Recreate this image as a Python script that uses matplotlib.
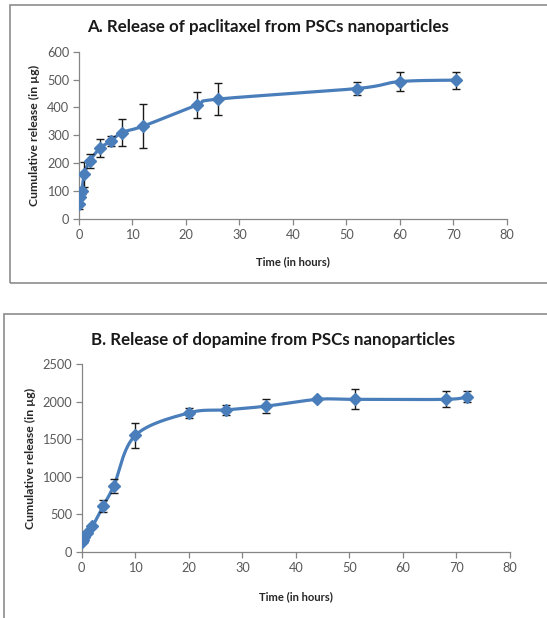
import numpy as np
import matplotlib
matplotlib.use("Agg")
import matplotlib.pyplot as plt
from matplotlib.patches import Rectangle

# ---- data ----
time_a = [0, 0.25, 0.5, 1, 2, 4, 6, 8, 12, 22, 26, 52, 60, 70.5]
release_a = [55, 78, 100, 160, 208, 255, 280, 310, 333, 408, 430, 468, 493, 498]
err_a = [18, 6, 10, 45, 26, 31, 17, 48, 79, 47, 57, 25, 33, 30]

time_b = [0, 0.25, 0.5, 1, 2, 4, 6, 10, 20, 27, 34.5, 44, 51, 68, 72]
release_b = [130, 160, 200, 250, 340, 610, 880, 1550, 1850, 1890, 1940, 2030, 2030, 2030, 2065]
err_b = [15, 10, 12, 15, 20, 75, 90, 165, 65, 70, 95, 15, 135, 105, 70]

title_a = "A. Release of paclitaxel from PSCs nanoparticles"
title_b = "B. Release of dopamine from PSCs nanoparticles"
xlabel = "Time (in hours)"
ylabel = "Cumulative release (in µg)"

W, H = 547, 618
BLUE = "#4A7EBB"
GREY_TXT = "#595959"
SPINE = "#868686"
FONT = "Lato"

fig = plt.figure(figsize=(W / 100, H / 100), dpi=100)


def fx(px):
    return px / W


def fy(py):
    return 1 - py / H


def smooth_line(ax, xs, ys):
    """Excel-like smoothed line (Catmull-Rom Bezier in display space)."""
    fig.canvas.draw()
    pts = ax.transData.transform(np.column_stack([xs, ys]))
    n = len(pts)
    out = []
    t = np.linspace(0, 1, 30)[:, None]
    for i in range(n - 1):
        p0 = pts[max(i - 1, 0)]
        p1 = pts[i]
        p2 = pts[i + 1]
        p3 = pts[min(i + 2, n - 1)]
        c1 = p1 + (p2 - p0) / 6
        c2 = p2 - (p3 - p1) / 6
        seg = ((1 - t) ** 3) * p1 + 3 * ((1 - t) ** 2) * t * c1 + 3 * (1 - t) * t ** 2 * c2 + t ** 3 * p2
        out.append(seg if i == 0 else seg[1:])
    out = np.vstack(out)
    data = ax.transData.inverted().transform(out)
    ax.plot(data[:, 0], data[:, 1], color=BLUE, lw=2.3, zorder=3, solid_capstyle="round")


def make_panel(rect, xs, ys, es, ymax, ystep, frame, title, title_xy, xlab_xy, ylab_xy):
    fig.add_artist(Rectangle((fx(frame[0]), fy(frame[3])), fx(frame[2] - frame[0]),
                             fy(frame[1]) - fy(frame[3]), transform=fig.transFigure,
                             fill=False, edgecolor="#8C8C8C", lw=1.2))
    ax = fig.add_axes([fx(rect[0]), fy(rect[3]), fx(rect[2] - rect[0]), fy(rect[1]) - fy(rect[3])])
    ax.set_xlim(0, 80)
    ax.set_ylim(0, ymax)
    ax.set_xticks(np.arange(0, 81, 10))
    ax.set_yticks(np.arange(0, ymax + 1, ystep))
    for s in ["top", "right"]:
        ax.spines[s].set_visible(False)
    for s in ["left", "bottom"]:
        ax.spines[s].set_color(SPINE)
        ax.spines[s].set_linewidth(0.9)
    ax.tick_params(direction="out", length=4, width=0.9, color=SPINE,
                   labelcolor=GREY_TXT, labelsize=9.2, pad=3)
    for lab in ax.get_xticklabels() + ax.get_yticklabels():
        lab.set_family(FONT)
    ax.patch.set_alpha(0)
    smooth_line(ax, xs, ys)
    ax.errorbar(xs, ys, yerr=es, fmt="none", ecolor="#1a1a1a", elinewidth=1.0,
                capsize=2.6, capthick=1.0, zorder=4)
    ax.plot(xs, ys, linestyle="none", marker="D", markersize=6, color=BLUE,
            markeredgecolor=BLUE, zorder=5)
    fig.text(fx(title_xy[0]), fy(title_xy[1]), title, ha="center", va="center",
             fontsize=12.2, fontweight="bold", family=FONT, color="#1a1a1a")
    fig.text(fx(xlab_xy[0]), fy(xlab_xy[1]), xlabel, ha="center", va="center",
             fontsize=8.1, fontweight="bold", family=FONT, color="#262626")
    fig.text(fx(ylab_xy[0]), fy(ylab_xy[1]), ylabel, ha="center", va="center",
             rotation=90, fontsize=8.8, fontweight="bold", family=FONT, color="#262626")
    return ax


make_panel((79, 51.7, 506.7, 219), time_a, release_a, err_a, 600, 100,
           (10, 5, 560, 283), title_a, (268, 27), (293, 262), (34, 135))
make_panel((81.7, 364, 510, 552), time_b, release_b, err_b, 2500, 500,
           (4.3, 314, 560, 640), title_b, (273.5, 340), (296, 597), (30, 458))

fig.savefig("out.png", dpi=100)
